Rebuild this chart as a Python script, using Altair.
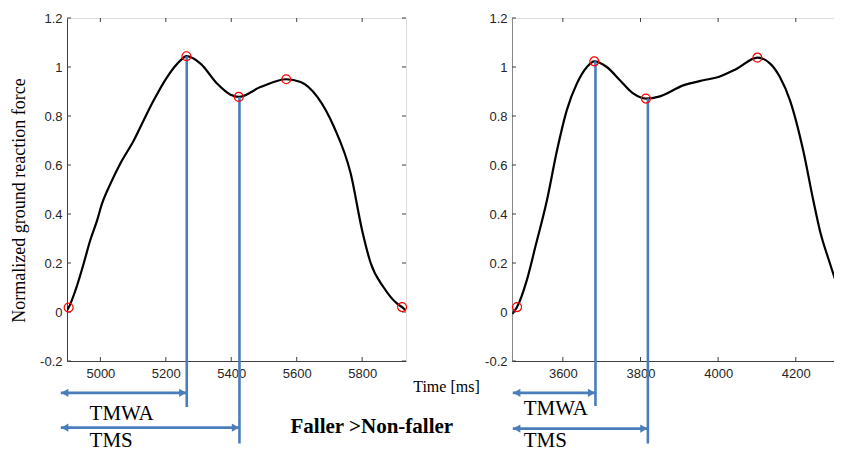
import altair as alt
import pandas as pd

# ---------------- data ----------------
# Left panel (Faller) curve: time [ms], normalized GRF
t_left = [4898, 4903, 4924, 4949, 4969, 4990, 5005, 5031, 5061, 5102, 5132, 5163, 5204,
          5245, 5263, 5306, 5357, 5398, 5423, 5489, 5568, 5612, 5663, 5714, 5765, 5800,
          5826, 5866, 5907, 5922, 5933]
v_left = [0.007, 0.018, 0.089, 0.198, 0.293, 0.374, 0.442, 0.524, 0.606, 0.70, 0.782,
          0.864, 0.959, 1.027, 1.044, 1.014, 0.932, 0.887, 0.878, 0.918, 0.95, 0.939,
          0.878, 0.755, 0.565, 0.333, 0.2, 0.1, 0.034, 0.02, 0.007]
mk_t_left = [4903, 5263, 5423, 5568, 5922]
mk_v_left = [0.018, 1.044, 0.878, 0.95, 0.02]

# Right panel (Non-faller) curve
t_right = [3470, 3482, 3507, 3529, 3559, 3585, 3610, 3636, 3662, 3681, 3713, 3747,
           3782, 3814, 3850, 3910, 3962, 3996, 4048, 4101, 4134, 4159, 4185, 4219, 4245,
           4262, 4288, 4319]
v_right = [-0.007, 0.02, 0.129, 0.265, 0.456, 0.66, 0.823, 0.932, 1.0, 1.023, 1.0,
           0.946, 0.891, 0.871, 0.88, 0.925, 0.946, 0.957, 0.993, 1.038, 1.014, 0.959,
           0.864, 0.66, 0.456, 0.333, 0.198, 0.048]
mk_t_right = [3482, 3681, 3814, 4101]
mk_v_right = [0.02, 1.023, 0.871, 1.038]

# Event markers (TMWA, TMS) and their guide lines
events = ["TMWA", "TMS"]
ev_t_left = [5264, 5425]
ev_top_left = [1.044, 0.878]
ev_bottom_left = [-0.388, -0.537]
arrow_start_left = 4879
arrow_y_left = [-0.330, -0.472]

ev_t_right = [3684, 3819]
ev_top_right = [1.023, 0.871]
ev_bottom_right = [-0.384, -0.537]
arrow_start_right = 3471
arrow_y_right = [-0.330, -0.476]

# Axes
x_dom_left = [4898, 5934]
x_dom_right = [3469, 4319]
x_ticks_left = [5000, 5200, 5400, 5600, 5800]
x_ticks_right = [3600, 3800, 4000, 4200]
y_dom = [-0.2, 1.2]
y_ticks = [-0.2, 0, 0.2, 0.4, 0.6, 0.8, 1, 1.2]

BLUE = "#4a7ebb"
SERIF = "Liberation Serif"
SANS = "Liberation Sans"
H = 343


def panel(t, v, mk_t, mk_v, ev_t, ev_top, ev_bottom, a_start, a_y, x_dom, x_ticks,
          width, ytitle, label_pos, yaxis_color, extras):
    curve = pd.DataFrame({"t": t, "v": v})
    marks = pd.DataFrame({"t": mk_t, "v": mk_v})
    ev = pd.DataFrame({"name": events, "t": ev_t, "top": ev_top, "bottom": ev_bottom,
                       "start": [a_start] * 2, "ay": a_y,
                       "lx": [label_pos[0]] * 2, "ly": label_pos[1]})
    xs = alt.Scale(domain=x_dom, nice=False, zero=False)
    ys = alt.Scale(domain=y_dom, nice=False, zero=False)

    yargs = dict(values=y_ticks, tickSize=0, labelPadding=5, labelFont=SANS,
                 labelFontSize=13, labelColor="#262626", domain=True,
                 domainColor=yaxis_color, grid=False,
                 labelExpr="replace(format(datum.value, '~g'), '\u2212', '-')")
    if ytitle:
        yargs.update(title=ytitle, titleFont=SERIF, titleFontSize=18,
                     titleFontWeight="normal", titleColor="black", titlePadding=11,
                     titleY=182)
    else:
        yargs.update(title=None)
    yaxis = alt.Axis(**yargs)
    xaxis = alt.Axis(values=x_ticks, format="d", tickSize=0, labelPadding=6, labelFont=SANS,
                     labelFontSize=13, labelColor="#262626", domain=True,
                     domainColor="#404040", grid=False, title=None)

    base = alt.Chart(curve).encode(
        x=alt.X("t:Q", scale=xs, axis=xaxis),
        y=alt.Y("v:Q", scale=ys, axis=yaxis),
    )
    line = base.mark_line(color="black", strokeWidth=2.2, interpolate="monotone", clip=True)

    pts = alt.Chart(marks).mark_point(shape="circle", size=80, color="#ff0000", filled=False,
                                      opacity=1, strokeWidth=1.2).encode(x="t:Q", y="v:Q")

    # inward tick marks
    dx = (x_dom[1] - x_dom[0]) * 4.0 / width
    dy = (y_dom[1] - y_dom[0]) * 4.0 / H
    xt = pd.DataFrame({"t": x_ticks})
    yt = pd.DataFrame({"v": y_ticks})
    tk = dict(color="#404040", strokeWidth=1)
    tb = alt.Chart(xt).mark_rule(**tk).encode(x="t:Q", y=alt.datum(y_dom[0]), y2=alt.datum(y_dom[0] + dy))
    tt = alt.Chart(xt).mark_rule(**tk).encode(x="t:Q", y=alt.datum(y_dom[1]), y2=alt.datum(y_dom[1] - dy))
    tl = alt.Chart(yt).mark_rule(**tk).encode(y="v:Q", x=alt.datum(x_dom[0]), x2=alt.datum(x_dom[0] + dx))
    tr = alt.Chart(yt).mark_rule(**tk).encode(y="v:Q", x=alt.datum(x_dom[1]), x2=alt.datum(x_dom[1] - dx))

    evc = alt.Chart(ev)
    vlines = evc.mark_rule(color=BLUE, strokeWidth=2.6, clip=False).encode(
        x="t:Q", y="top:Q", y2="bottom:Q")
    arrows = evc.mark_rule(color=BLUE, strokeWidth=2.6, clip=False).encode(
        x="start:Q", x2="t:Q", y="ay:Q")
    head_l = evc.mark_point(shape="triangle-left", size=70, filled=True, opacity=1,
                            color=BLUE, xOffset=4, clip=False).encode(x="start:Q", y="ay:Q")
    head_r = evc.mark_point(shape="triangle-right", size=70, filled=True, opacity=1,
                            color=BLUE, xOffset=-4, clip=False).encode(x="t:Q", y="ay:Q")
    labels = evc.mark_text(font=SERIF, fontSize=21, color="black", align="left",
                           baseline="alphabetic", clip=False).encode(
        x="lx:Q", y="ly:Q", text="name:N")

    layers = [line, tb, tt, tl, tr, vlines, arrows, head_l, head_r, labels, pts] + extras
    return alt.layer(*layers).properties(width=width, height=H)


# annotation texts placed in left-panel data coordinates
ann = pd.DataFrame({"txt": ["Time [ms]"], "t": [5956], "v": [-0.327]})
ann2 = pd.DataFrame({"txt": ["Faller >Non-faller"], "t": [5581], "v": [-0.495]})
time_txt = alt.Chart(ann).mark_text(font=SERIF, fontSize=16, color="black", align="left",
                                    baseline="alphabetic", clip=False).encode(
    x="t:Q", y="v:Q", text="txt:N")
fall_txt = alt.Chart(ann2).mark_text(font=SERIF, fontSize=21, fontWeight="bold",
                                     color="black", align="left", baseline="alphabetic",
                                     clip=False).encode(x="t:Q", y="v:Q", text="txt:N")

left = panel(t_left, v_left, mk_t_left, mk_v_left, ev_t_left, ev_top_left, ev_bottom_left,
             arrow_start_left, arrow_y_left, x_dom_left, x_ticks_left, 339,
             "Normalized ground reaction force", (4967, [-0.442, -0.550]), "#404040",
             [time_txt, fall_txt])
right = panel(t_right, v_right, mk_t_right, mk_v_right, ev_t_right, ev_top_right,
              ev_bottom_right, arrow_start_right, arrow_y_right, x_dom_right, x_ticks_right,
              330, None, (3499, [-0.419, -0.550]), "#888888", [])

chart = alt.hconcat(left, right, spacing=106, bounds="flush").properties(
    padding={"left": 2, "top": 3, "right": -9, "bottom": 0}
).configure_view(stroke="#404040", strokeWidth=1).configure(background="white")

chart.save("out.html", embed_options={"renderer": "svg", "actions": False})
